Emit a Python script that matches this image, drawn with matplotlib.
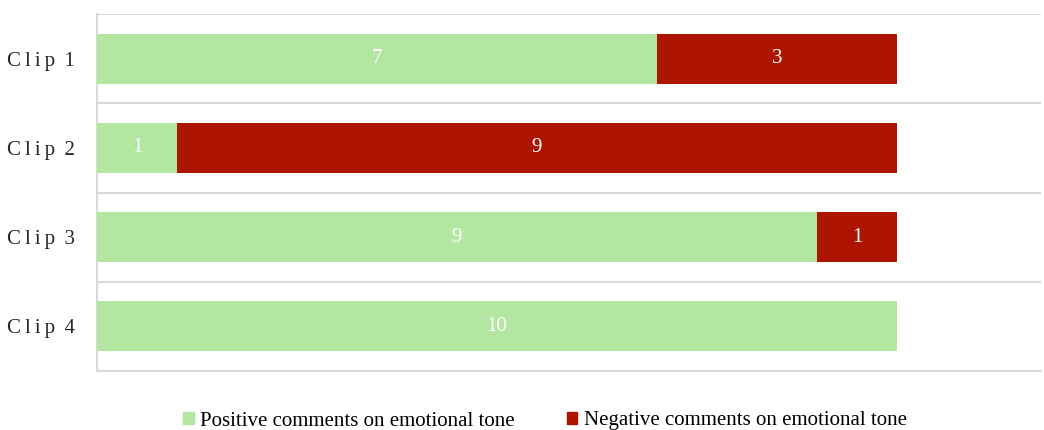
import numpy as np
import matplotlib.pyplot as plt
from matplotlib.patches import Patch

clips = ["Clip 1", "Clip 2", "Clip 3", "Clip 4"]
positive = [7, 1, 9, 10]
negative = [3, 9, 1, 0]
series_names = ["Positive comments on emotional tone", "Negative comments on emotional tone"]

green = "#B3E6A1"
red = "#AD1500"
grid_col = "#D9D9D9"

plt.rcParams["font.family"] = ["Liberation Serif", "DejaVu Serif"]


def spaced(s):
    # imitate the letter spacing of the original axis labels
    word, num = s.split(" ")
    return "\u2009".join(word) + " \u2009" + num


fig = plt.figure(figsize=(10.44, 4.30), dpi=100)
ax = fig.add_axes([97 / 1044, 1 - 371 / 430, 1 - 97 / 1044 - 0.003, (371 - 14) / 430])

y = np.arange(len(clips))
h = 0.56
pos = np.array(positive)
neg = np.array(negative)

ax.barh(y, pos, height=h, color=green, edgecolor="none", zorder=3)
ax.barh(y, neg, left=pos, height=h, color=red, edgecolor="none", zorder=3)

for i in range(len(clips)):
    if pos[i] > 0:
        ax.text(pos[i] / 2, y[i], str(pos[i]), color="white", ha="center", va="center", fontsize=15, zorder=4)
    if neg[i] > 0:
        ax.text(pos[i] + neg[i] / 2, y[i], str(neg[i]), color="white", ha="center", va="center", fontsize=15, zorder=4)

ax.set_xlim(0, 11.8)
ax.set_ylim(len(clips) - 0.5, -0.5)
ax.set_yticks(y)
ax.set_yticklabels([spaced(c) for c in clips], fontsize=15, color="#262626")
ax.set_xticks([])

# separators between categories
for b in np.arange(-0.5, len(clips), 1.0):
    ax.axhline(b, color=grid_col, linewidth=1.5, zorder=1)

for side in ["top", "right"]:
    ax.spines[side].set_visible(False)
ax.spines["left"].set_color(grid_col)
ax.spines["left"].set_linewidth(1.5)
ax.spines["bottom"].set_color(grid_col)
ax.spines["bottom"].set_linewidth(1.5)
ax.tick_params(axis="y", length=0, pad=16)

handles = [Patch(color=green), Patch(color=red)]
fig.legend(handles, series_names, loc="center", bbox_to_anchor=(545 / 1044, 1 - 421 / 430),
           ncol=2, frameon=False, fontsize=15, handlelength=0.5, handleheight=0.5,
           handletextpad=0.3, columnspacing=2.5)

fig.savefig("out.png", dpi=100)
